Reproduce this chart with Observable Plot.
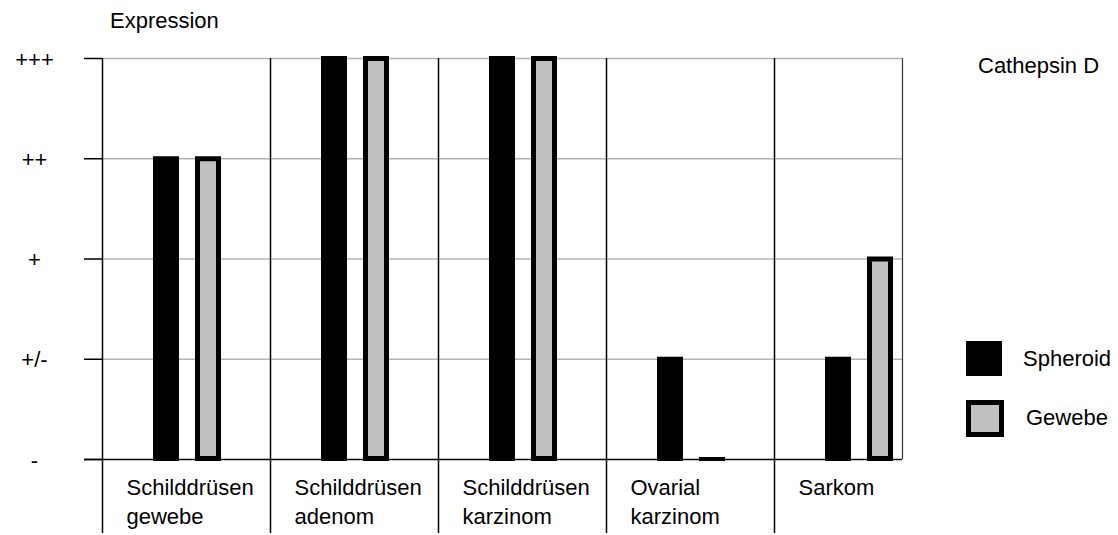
<!DOCTYPE html>
<html>
<head>
<meta charset="utf-8">
<script src="https://cdn.jsdelivr.net/npm/d3@7"></script>
<script src="https://cdn.jsdelivr.net/npm/@observablehq/plot@0.6"></script>
<style>
  html, body { margin: 0; padding: 0; background: white; }
  #wrap { position: relative; width: 1118px; height: 535px; font-family: "Liberation Sans", Arial, sans-serif; font-size: 22px; color: black; }
  #wrap svg { overflow: visible; }
  .lbl { position: absolute; line-height: 22px; white-space: nowrap; }
  .sq { position: absolute; box-sizing: border-box; }
</style>
</head>
<body>
<div id="wrap"></div>
<script>
const categories = ["Schilddrüsen gewebe", "Schilddrüsen adenom", "Schilddrüsen karzinom", "Ovarial karzinom", "Sarkom"];
const categoryLabels = ["Schilddrüsen\ngewebe", "Schilddrüsen\nadenom", "Schilddrüsen\nkarzinom", "Ovarial\nkarzinom", "Sarkom"];
const spheroid = [3, 4, 4, 1, 1];
const gewebe = [3, 4, 4, 0, 2];
const levels = [0, 1, 2, 3, 4];
const levelLabels = ["-", "+/-", "+", "++", "+++"];
const seriesNames = ["Spheroid", "Gewebe"];
const yTitle = "Expression";
const chartTitle = "Cathepsin D";

const sph = categories.map((c, i) => ({cat: c, value: spheroid[i]}));
const gew = categories.map((c, i) => ({cat: c, value: gewebe[i]}));

const chart = Plot.plot({
  width: 1118,
  height: 535,
  marginLeft: 102,
  marginRight: 176,
  marginTop: 58,
  marginBottom: 76,
  style: {fontFamily: "'Liberation Sans', Arial, sans-serif", fontSize: "22px", background: "white", color: "black", overflow: "visible"},
  x: {type: "band", domain: categories, padding: 0, axis: null},
  y: {domain: [0, 4], axis: null},
  marks: [
    Plot.ruleY(levels.filter(d => d > 0), {y: d => d, stroke: "#b4b4b4", strokeWidth: 1.5, insetRight: 40}),
    Plot.ruleX(categories, {x: d => d, dx: -84, insetBottom: -74, stroke: "black", strokeWidth: 1.5}),
    Plot.ruleX([categories[categories.length - 1]], {x: d => d, dx: 44, stroke: "#333", strokeWidth: 1.2}),
    Plot.ruleY([0], {y: d => d, stroke: "black", strokeWidth: 1.5, insetLeft: -18, insetRight: 40}),
    Plot.ruleY(levels, {y: d => d, stroke: "black", strokeWidth: 1.5, insetLeft: -18, insetRight: 840}),
    Plot.barY(sph, {x: "cat", y: "value", fill: "black", insetLeft: 51, insetRight: 91, insetTop: -2, insetBottom: -2}),
    Plot.barY(gew, {x: "cat", y: "value", fill: "black", insetLeft: 93, insetRight: 49, insetTop: -2, insetBottom: -2}),
    Plot.barY(gew, {filter: d => d.value > 0, x: "cat", y: "value", fill: "#c0c0c0", insetLeft: 98, insetRight: 54, insetTop: 3, insetBottom: 3}),
    Plot.text(levels, {y: d => d, text: d => levelLabels[d], frameAnchor: "left", dx: -68, dy: 1, textAnchor: "middle", fontSize: 22, fill: "black"}),
    Plot.text(categories, {x: d => d, text: (d, i) => categoryLabels[i], frameAnchor: "bottom", textAnchor: "start", lineAnchor: "top", dx: -60, dy: 15, lineHeight: 1.32, fontSize: 22, fill: "black"})
  ]
});

const wrap = document.getElementById("wrap");
wrap.appendChild(chart);

function addLabel(text, left, top) {
  const d = document.createElement("div");
  d.className = "lbl";
  d.textContent = text;
  d.style.left = left + "px";
  d.style.top = top + "px";
  wrap.appendChild(d);
}
function addSquare(left, top, w, h, fill, border) {
  const d = document.createElement("div");
  d.className = "sq";
  d.style.left = left + "px";
  d.style.top = top + "px";
  d.style.width = w + "px";
  d.style.height = h + "px";
  d.style.background = fill;
  if (border) d.style.border = border;
  wrap.appendChild(d);
}
addLabel(yTitle, 110, 10);
addLabel(chartTitle, 978, 55);
addSquare(966, 341, 36, 35, "black", null);
addLabel(seriesNames[0], 1023, 348);
addSquare(966, 400, 38, 37, "#c0c0c0", "5px solid black");
addLabel(seriesNames[1], 1026, 407);
</script>
</body>
</html>
